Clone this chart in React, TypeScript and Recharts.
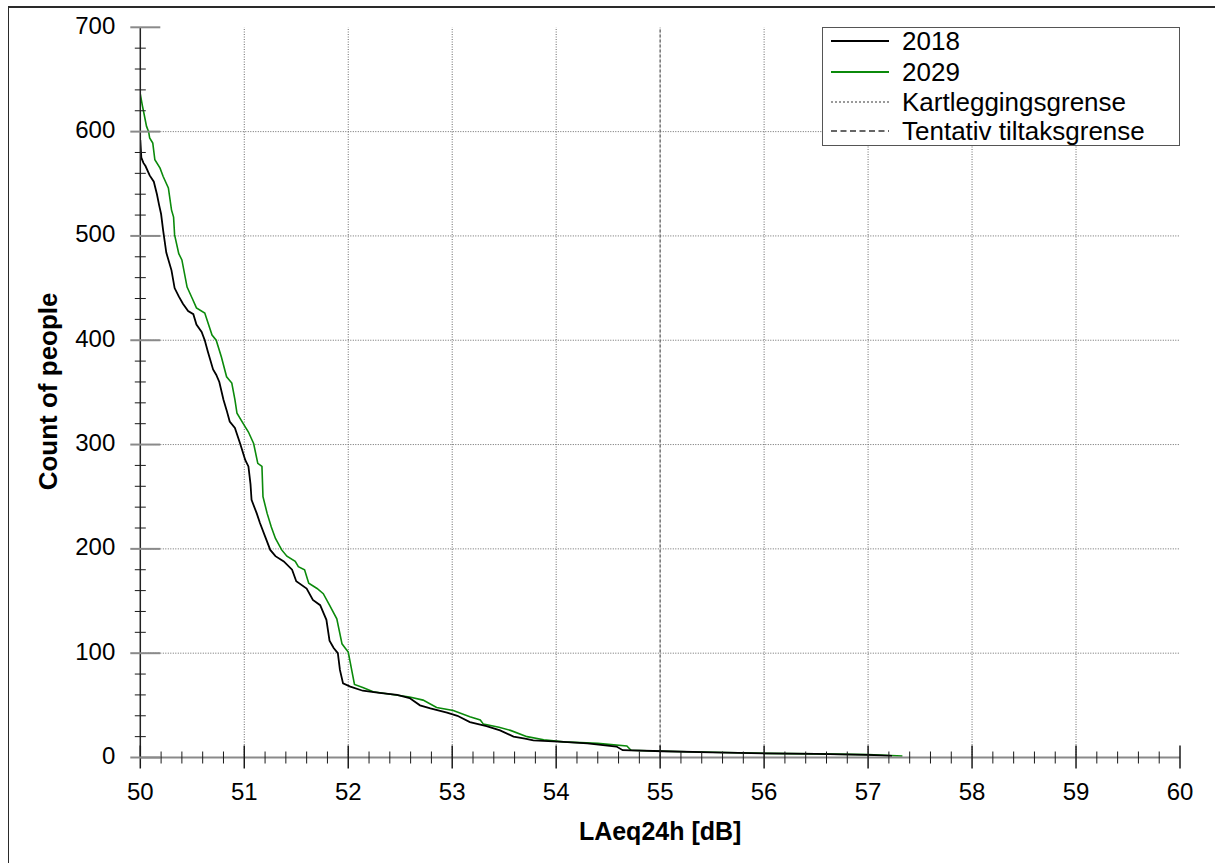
import React from 'react';
import { LineChart, Line, XAxis, YAxis, ReferenceLine, Legend } from 'recharts';

const FONT = "Arial, 'Liberation Sans', Helvetica, sans-serif";

const X_MAJOR = [50, 51, 52, 53, 54, 55, 56, 57, 58, 59, 60];
const Y_MAJOR = [0, 100, 200, 300, 400, 500, 600, 700];
const X_MINOR_PER_MAJOR = 5;
const Y_MINOR_PER_MAJOR = 5;
const LIMIT_LEVEL = 55;

const levels2018 = [
  50.0, 50.01, 50.03, 50.05, 50.09, 50.13, 50.16, 50.18, 50.2, 50.22, 50.25, 50.3, 50.33, 50.37, 50.41,
  50.46, 50.51, 50.54, 50.59, 50.62, 50.65, 50.7, 50.73, 50.76, 50.8, 50.83, 50.86, 50.91, 50.96, 51.01,
  51.04, 51.06, 51.07, 51.12, 51.15, 51.2, 51.25, 51.3, 51.38, 51.46, 51.5, 51.6, 51.66, 51.73, 51.79,
  51.82, 51.86, 51.9, 51.92, 51.95, 52.02, 52.14, 52.3, 52.47, 52.59, 52.69, 52.79, 52.95, 53.05, 53.17,
  53.33, 53.46, 53.59, 53.7, 53.78, 54.07, 54.3, 54.58, 54.64, 55.03, 55.5, 56.0, 56.5, 57.0, 57.23,
];
const counts2018 = [
  592, 575, 570, 567, 558, 552, 540, 530, 521, 505, 484, 467, 450, 442, 435,
  428, 425, 415, 408, 400, 389, 372, 367, 360, 343, 333, 322, 316, 301, 285,
  279, 262, 247, 234, 225, 212, 199, 193, 188, 180, 169, 162, 151, 146, 132,
  112, 105, 100, 84, 71, 68, 64, 62, 60, 57, 50, 47, 43, 40, 34,
  30, 26, 20, 18, 16.5, 15, 13.5, 10.5, 7, 6, 5, 4, 3.5, 2.5, 1.5,
];

const levels2029 = [
  50.0, 50.02, 50.03, 50.06, 50.08, 50.09, 50.12, 50.14, 50.19, 50.22, 50.27, 50.3, 50.32, 50.33, 50.37,
  50.4, 50.45, 50.5, 50.54, 50.62, 50.69, 50.73, 50.78, 50.83, 50.88, 50.91, 50.93, 50.99, 51.04, 51.09,
  51.13, 51.17, 51.18, 51.22, 51.26, 51.3, 51.36, 51.41, 51.49, 51.52, 51.58, 51.62, 51.7, 51.76, 51.82,
  51.89, 51.94, 51.97, 52.0, 52.06, 52.14, 52.24, 52.59, 52.72, 52.85, 53.01, 53.17, 53.27, 53.3, 53.45,
  53.56, 53.72, 53.88, 54.07, 54.4, 54.68, 54.72, 55.03, 55.5, 56.0, 56.5, 57.0, 57.33,
];
const counts2029 = [
  636, 625, 620, 605, 600, 594, 589, 573, 565, 557, 546, 525, 518, 501, 483,
  477, 451, 440, 431, 426, 405, 400, 384, 365, 359, 343, 330, 320, 312, 301,
  282, 279, 250, 234, 221, 210, 199, 193, 188, 183, 180, 167, 162, 157, 146,
  133, 109, 105, 101, 70, 67, 63, 58, 55, 48, 45, 39, 36, 32, 29,
  26, 20, 17, 15, 13.5, 11, 7, 6, 5, 4, 3.5, 2.8, 1.5,
];

const data2018 = levels2018.map((x, i) => ({ x, y: counts2018[i] }));
const data2029 = levels2029.map((x, i) => ({ x, y: counts2029[i] }));

const xTicks: number[] = X_MAJOR.flatMap((m, i) =>
  i < X_MAJOR.length - 1
    ? Array.from({ length: X_MINOR_PER_MAJOR }, (_, k) => +(m + (k * (X_MAJOR[i + 1] - m)) / X_MINOR_PER_MAJOR).toFixed(2))
    : [m]
);
const yTicks: number[] = Y_MAJOR.flatMap((m, i) =>
  i < Y_MAJOR.length - 1
    ? Array.from({ length: Y_MINOR_PER_MAJOR }, (_, k) => m + (k * (Y_MAJOR[i + 1] - m)) / Y_MINOR_PER_MAJOR)
    : [m]
);
const isXMajor = (v: number) => X_MAJOR.some((m) => Math.abs(m - v) < 1e-6);
const isYMajor = (v: number) => Y_MAJOR.some((m) => Math.abs(m - v) < 1e-6);

const BottomTick = (props: any) => {
  const { x, y, payload } = props;
  const major = isXMajor(payload.value);
  return (
    <g>
      <line x1={x} x2={x} y1={major ? y - 12 : y - 6} y2={major ? y + 11 : y + 6} stroke="#1a1a1a" strokeWidth={major ? 1.5 : 1} />
      {major && (
        <text x={x} y={y + 42.5} textAnchor="middle" fontSize={24} fontFamily={FONT} fill="#000">
          {Math.round(payload.value)}
        </text>
      )}
    </g>
  );
};

const TopTick = (props: any) => {
  const { x, y, payload } = props;
  const major = isXMajor(payload.value);
  return <line x1={x} x2={x} y1={y} y2={major ? y + 10 : y + 6} stroke={major ? '#222' : '#555'} strokeWidth={major ? 1.5 : 1} />;
};

const LeftTick = (props: any) => {
  const { x, y, payload } = props;
  const major = isYMajor(payload.value);
  return (
    <g>
      {major ? (
        <line x1={x - 10} x2={x + 20} y1={y} y2={y} stroke="#8a8a8a" strokeWidth={2} />
      ) : (
        <line x1={x - 5.5} x2={x + 5.5} y1={y} y2={y} stroke="#1a1a1a" strokeWidth={1} />
      )}
      {major && (
        <text x={x - 25} y={y + 6.5} textAnchor="end" fontSize={24} fontFamily={FONT} fill="#000">
          {payload.value}
        </text>
      )}
    </g>
  );
};

const RightTick = (props: any) => {
  const { x, y, payload } = props;
  const major = isYMajor(payload.value);
  return <line x1={major ? x - 10 : x - 6} x2={x} y1={y} y2={y} stroke="#333" strokeWidth={1} />;
};

const XTitle = (props: any) => {
  const vb = props.viewBox || {};
  return (
    <text x={vb.x + vb.width / 2} y={vb.y + 82.5} textAnchor="middle" fontSize={25} fontWeight="bold" fontFamily={FONT} fill="#000">
      LAeq24h [dB]
    </text>
  );
};

const YTitle = (props: any) => {
  const vb = props.viewBox || {};
  const cx = vb.x + 57;
  const cy = vb.y + vb.height / 2 - 1;
  return (
    <text x={cx} y={cy} transform={`rotate(-90, ${cx}, ${cy})`} textAnchor="middle" fontSize={26} fontWeight="bold" fontFamily={FONT} fill="#000">
      Count of people
    </text>
  );
};

const legendItems = [
  { label: '2018', color: '#000000', dash: undefined as string | undefined, width: 2 },
  { label: '2029', color: '#0b8a0b', dash: undefined as string | undefined, width: 2 },
  { label: 'Kartleggingsgrense', color: '#9a9a9a', dash: '2 2', width: 2 },
  { label: 'Tentativ tiltaksgrense', color: '#666666', dash: '6 3.5', width: 2 },
];

const LegendBox = () => (
  <div
    style={{
      position: 'relative',
      width: 358,
      height: 119,
      boxSizing: 'border-box',
      border: '1px solid #555',
      background: '#fff',
      fontFamily: FONT,
      fontSize: 26,
      color: '#000',
    }}
  >
    {legendItems.map((it, i) => {
      const cy = [13, 44, 74, 103][i];
      return (
        <div key={it.label} style={{ position: 'absolute', left: 0, top: cy - 14, height: 28, width: 356 }}>
          <svg width={70} height={28} style={{ position: 'absolute', left: 0, top: 0 }}>
            <line x1={8} x2={66} y1={14} y2={14} stroke={it.color} strokeWidth={it.width} strokeDasharray={it.dash} />
          </svg>
          <span style={{ position: 'absolute', left: 79, top: 0, lineHeight: '28px', whiteSpace: 'nowrap' }}>{it.label}</span>
        </div>
      );
    })}
  </div>
);

export default function App() {
  return (
    <div style={{ position: 'absolute', left: 0, top: 0, width: 1212, height: 860, background: '#fff', fontFamily: FONT }}>
      <div
        style={{
          position: 'absolute',
          left: 8,
          top: 6,
          width: 1210,
          height: 860,
          borderTop: '2px solid #2a2a2a',
          borderLeft: '1.5px solid #2a2a2a',
          boxSizing: 'border-box',
        }}
      />
      <LineChart width={1212} height={860} margin={{ top: 27.3, right: 32, bottom: 42.5, left: 0 }}>
        <XAxis
          xAxisId="b"
          dataKey="x"
          type="number"
          domain={[50, 60]}
          allowDataOverflow
          ticks={xTicks}
          interval={0}
          tickSize={0}
          tickMargin={0}
          tickLine={false}
          tick={<BottomTick />}
          axisLine={{ stroke: '#8a8a8a', strokeWidth: 2 }}
          height={60}
          label={<XTitle />}
        />
        <XAxis
          xAxisId="t"
          orientation="top"
          type="number"
          domain={[50, 60]}
          allowDataOverflow
          ticks={xTicks}
          interval={0}
          tickSize={0}
          tickMargin={0}
          tickLine={false}
          tick={<TopTick />}
          axisLine={{ stroke: '#8a8a8a', strokeWidth: 2 }}
          height={0}
        />
        <YAxis
          yAxisId="l"
          type="number"
          domain={[0, 700]}
          allowDataOverflow
          ticks={yTicks}
          interval={0}
          tickSize={0}
          tickMargin={0}
          tickLine={false}
          tick={<LeftTick />}
          axisLine={{ stroke: '#222', strokeWidth: 1.5 }}
          width={140.3}
          label={<YTitle />}
        />
        <YAxis
          yAxisId="r"
          orientation="right"
          type="number"
          domain={[0, 700]}
          allowDataOverflow
          ticks={yTicks}
          interval={0}
          tickSize={0}
          tickMargin={0}
          tickLine={false}
          tick={<RightTick />}
          axisLine={{ stroke: '#8a8a8a', strokeWidth: 2 }}
          width={0}
        />
        {X_MAJOR.slice(1, -1)
          .filter((v) => v !== LIMIT_LEVEL)
          .map((v) => (
            <ReferenceLine key={`gx${v}`} xAxisId="b" yAxisId="l" x={v} stroke="#6a6a6a" strokeWidth={1} strokeDasharray="1 1.5" />
          ))}
        {Y_MAJOR.slice(1, -1).map((v) => (
          <ReferenceLine key={`gy${v}`} xAxisId="b" yAxisId="l" y={v} stroke="#6a6a6a" strokeWidth={1} strokeDasharray="1 1.5" />
        ))}
        <ReferenceLine xAxisId="b" yAxisId="l" x={LIMIT_LEVEL} stroke="#aaaaaa" strokeWidth={1} strokeDasharray="1 1" />
        <ReferenceLine xAxisId="b" yAxisId="l" x={LIMIT_LEVEL} stroke="#666" strokeWidth={1.3} strokeDasharray="3 2" />
        <Line
          xAxisId="b"
          yAxisId="l"
          data={data2029}
          dataKey="y"
          name="2029"
          type="linear"
          stroke="#0b8a0b"
          strokeWidth={1.6}
          dot={false}
          activeDot={false}
          isAnimationActive={false}
        />
        <Line
          xAxisId="b"
          yAxisId="l"
          data={data2018}
          dataKey="y"
          name="2018"
          type="linear"
          stroke="#000"
          strokeWidth={1.8}
          dot={false}
          activeDot={false}
          isAnimationActive={false}
        />
        <Legend
          layout="horizontal"
          verticalAlign="middle"
          align="center"
          content={<LegendBox />}
          wrapperStyle={{ left: 822, top: 27, width: 358, height: 119 }}
        />
      </LineChart>
    </div>
  );
}
